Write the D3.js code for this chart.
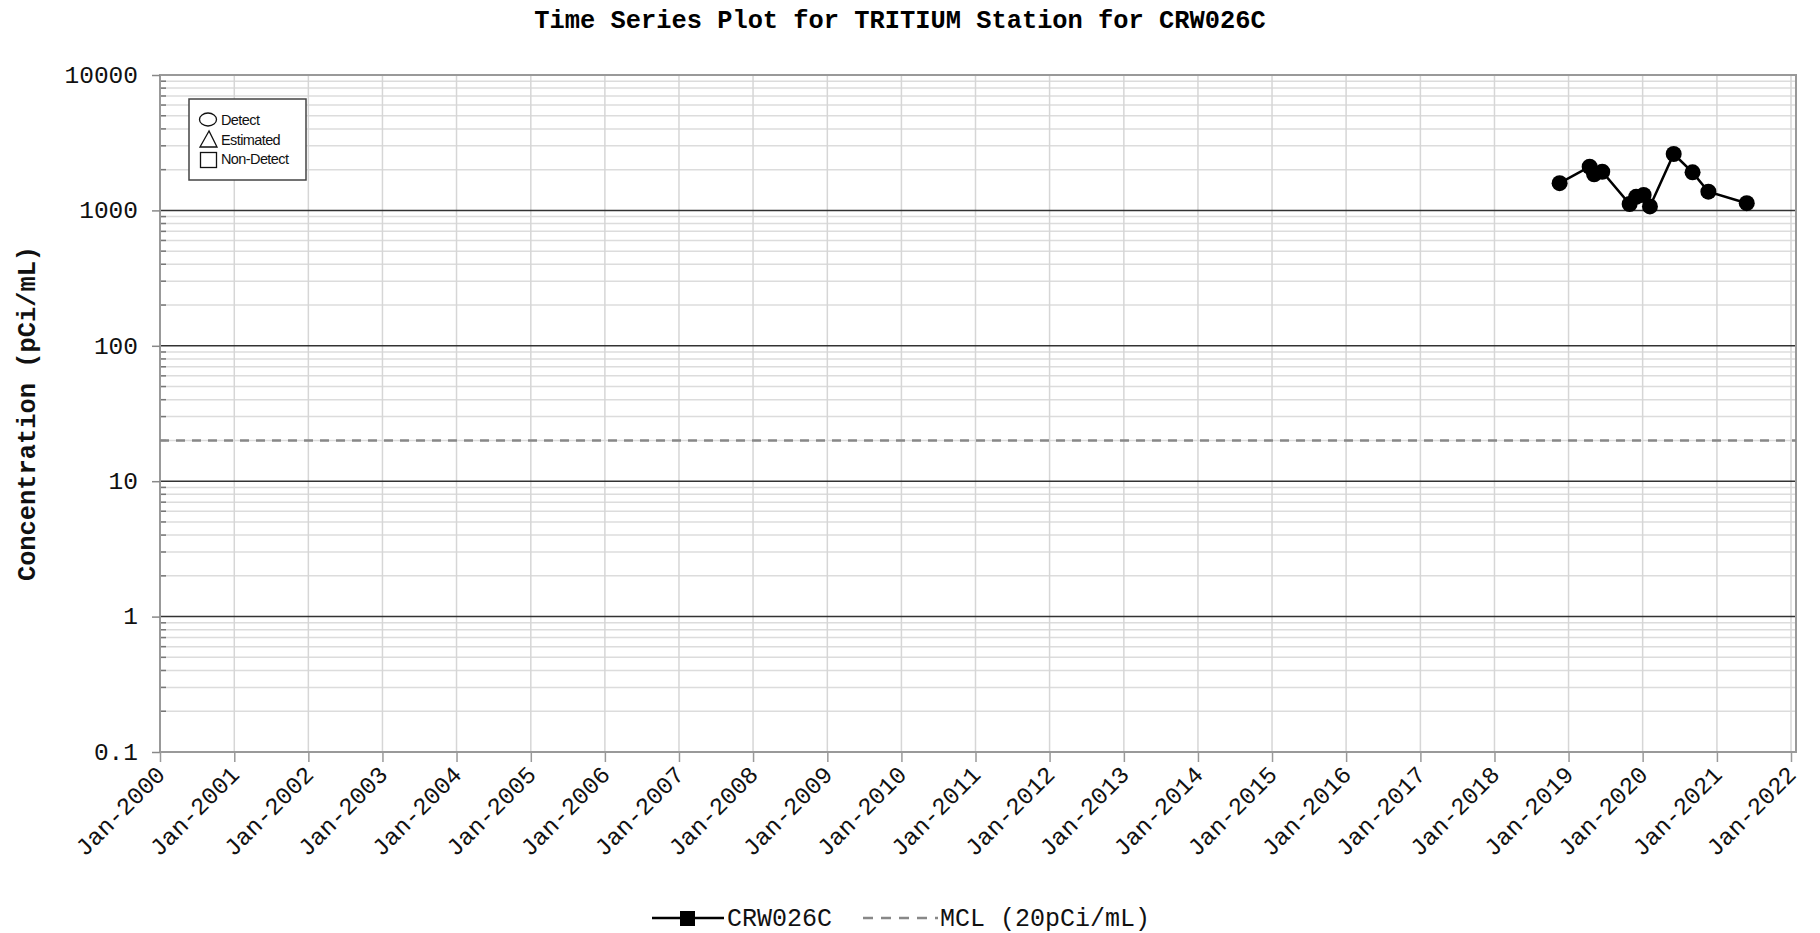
<!DOCTYPE html>
<html>
<head>
<meta charset="utf-8">
<script src="https://cdn.jsdelivr.net/npm/d3@7"></script>
<style>
  html, body { margin: 0; padding: 0; background: #fff; }
  svg { display: block; }
</style>
</head>
<body>
<svg id="chart" width="1820" height="933"></svg>
<script>
// ---------- data ----------
const sampleDates = ["2018-11-18","2019-04-15","2019-05-07","2019-06-16","2019-10-29","2019-11-30",
                     "2020-01-06","2020-02-06","2020-06-02","2020-09-03","2020-11-20","2021-05-28"];
const sampleValues = [1590, 2100, 1850, 1930, 1115, 1260, 1300, 1070, 2610, 1910, 1375, 1130];
const mclValue = 20;
const yTickValues = [0.1, 1, 10, 100, 1000, 10000];
const yTickLabels = ["0.1", "1", "10", "100", "1000", "10000"];
const xTickYears = d3.range(2000, 2023);
const legendSymbols = ["Detect", "Estimated", "Non-Detect"];
const seriesName = "CRW026C";
const mclLabel = "MCL (20pCi/mL)";
const titleText = "Time Series Plot for TRITIUM Station for CRW026C";
const yTitle = "Concentration (pCi/mL)";

// ---------- layout ----------
const L = 160, R = 1796, T = 75, B = 752;
const svg = d3.select("#chart");
const parse = d3.timeParse("%Y-%m-%d");
const data = sampleDates.map((d, i) => ({ date: parse(d), value: sampleValues[i] }));

const x = d3.scaleTime()
  .domain([new Date(2000, 0, 1), new Date(2022, 0, 1)])
  .range([L, 1791]);
const y = d3.scaleLog().domain([0.1, 10000]).range([B, T]);

const mono = "'Liberation Mono', 'DejaVu Sans Mono', monospace";

// minor gridlines
const minorVals = [];
for (let e = -1; e < 4; e++) for (let m = 2; m <= 9; m++) minorVals.push(m * Math.pow(10, e));

svg.append("g").selectAll("line").data(minorVals).join("line")
  .attr("x1", L).attr("x2", R)
  .attr("y1", d => y(d)).attr("y2", d => y(d))
  .attr("stroke", "#dcdcdc").attr("stroke-width", 1.5);

// vertical year grid
const yearDates = xTickYears.map(yr => new Date(yr, 0, 1));
svg.append("g").selectAll("line").data(yearDates).join("line")
  .attr("x1", d => x(d)).attr("x2", d => x(d))
  .attr("y1", T).attr("y2", B)
  .attr("stroke", "#d6d6d6").attr("stroke-width", 1.5);

// major gridlines
svg.append("g").selectAll("line").data(yTickValues.slice(1, -1)).join("line")
  .attr("x1", L).attr("x2", R)
  .attr("y1", d => y(d)).attr("y2", d => y(d))
  .attr("stroke", "#333").attr("stroke-width", 1.5);

// minor tick marks inside left axis
svg.append("g").selectAll("line").data(minorVals).join("line")
  .attr("x1", L).attr("x2", L + 6)
  .attr("y1", d => y(d)).attr("y2", d => y(d))
  .attr("stroke", "#777").attr("stroke-width", 1.5);

// frame
svg.append("rect").attr("x", L).attr("y", T).attr("width", R - L).attr("height", B - T)
  .attr("fill", "none").attr("stroke", "#999").attr("stroke-width", 2);

// y axis
const yAxis = d3.axisLeft(y).tickValues(yTickValues)
  .tickFormat((d, i) => yTickLabels[i]).tickSize(8).tickPadding(14);
const gy = svg.append("g").attr("transform", `translate(${L},0)`).call(yAxis);
gy.select(".domain").remove();
gy.selectAll(".tick line").attr("stroke", "#888").attr("stroke-width", 1.5);
gy.selectAll(".tick text").attr("font-family", mono).attr("font-size", 24.5)
  .attr("fill", "#111").attr("dy", "0.3em");

// x axis
const xAxis = d3.axisBottom(x).tickValues(yearDates)
  .tickFormat(d3.timeFormat("Jan-%Y")).tickSize(10);
const gx = svg.append("g").attr("transform", `translate(0,${B})`).call(xAxis);
gx.select(".domain").remove();
gx.selectAll(".tick line").attr("stroke", "#999").attr("stroke-width", 1.5);
gx.selectAll(".tick text")
  .attr("font-family", mono).attr("font-size", 24).attr("fill", "#111")
  .attr("text-anchor", "end")
  .attr("x", 0).attr("y", 0).attr("dy", 0)
  .attr("transform", "translate(6,24) rotate(-45)");

// MCL line
svg.append("line")
  .attr("x1", L).attr("x2", R).attr("y1", y(mclValue)).attr("y2", y(mclValue))
  .attr("stroke", "#888").attr("stroke-width", 2.5).attr("stroke-dasharray", "9,7");

// series
const line = d3.line().x(d => x(d.date)).y(d => y(d.value));
svg.append("path").datum(data).attr("d", line)
  .attr("fill", "none").attr("stroke", "#000").attr("stroke-width", 2.5);
svg.append("g").selectAll("circle").data(data).join("circle")
  .attr("cx", d => x(d.date)).attr("cy", d => y(d.value)).attr("r", 8)
  .attr("fill", "#000");

// symbol legend box
const lg = svg.append("g");
lg.append("rect").attr("x", 189).attr("y", 99).attr("width", 117).attr("height", 81)
  .attr("fill", "#fff").attr("stroke", "#444").attr("stroke-width", 1.5);
lg.append("ellipse").attr("cx", 208).attr("cy", 119.5).attr("rx", 8.5).attr("ry", 6.5)
  .attr("fill", "none").attr("stroke", "#111").attr("stroke-width", 1.3);
lg.append("path").attr("d", "M209,131 L200,147 L217,147 Z")
  .attr("fill", "none").attr("stroke", "#111").attr("stroke-width", 1.3);
lg.append("rect").attr("x", 200.5).attr("y", 152.5).attr("width", 16).attr("height", 15)
  .attr("fill", "none").attr("stroke", "#111").attr("stroke-width", 1.3);
lg.selectAll("text").data(legendSymbols).join("text")
  .attr("x", 221).attr("y", (d, i) => 125 + i * 19.7)
  .attr("font-family", "'Liberation Sans', Arial, sans-serif").attr("font-size", 14.5)
  .attr("letter-spacing", -0.6).attr("fill", "#111")
  .text(d => d);

// title
svg.append("text").attr("x", 900).attr("y", 28).attr("text-anchor", "middle")
  .attr("font-family", mono).attr("font-weight", "bold").attr("font-size", 25.4)
  .attr("fill", "#000").text(titleText);

// y title
svg.append("text").attr("transform", `translate(35,${(T + B) / 2}) rotate(-90)`)
  .attr("text-anchor", "middle")
  .attr("font-family", mono).attr("font-weight", "bold").attr("font-size", 25.4)
  .attr("fill", "#111").text(yTitle);

// bottom legend
const bl = svg.append("g");
bl.append("line").attr("x1", 652).attr("x2", 724).attr("y1", 918).attr("y2", 918)
  .attr("stroke", "#000").attr("stroke-width", 2.5);
bl.append("rect").attr("x", 680).attr("y", 911).attr("width", 15).attr("height", 15).attr("fill", "#000");
bl.append("text").attr("x", 727).attr("y", 926)
  .attr("font-family", mono).attr("font-size", 25).attr("fill", "#111").text(seriesName);
bl.append("line").attr("x1", 863).attr("x2", 938).attr("y1", 918).attr("y2", 918)
  .attr("stroke", "#888").attr("stroke-width", 2.5).attr("stroke-dasharray", "10,8");
bl.append("text").attr("x", 940).attr("y", 926)
  .attr("font-family", mono).attr("font-size", 25).attr("fill", "#111").text(mclLabel);
</script>
</body>
</html>
